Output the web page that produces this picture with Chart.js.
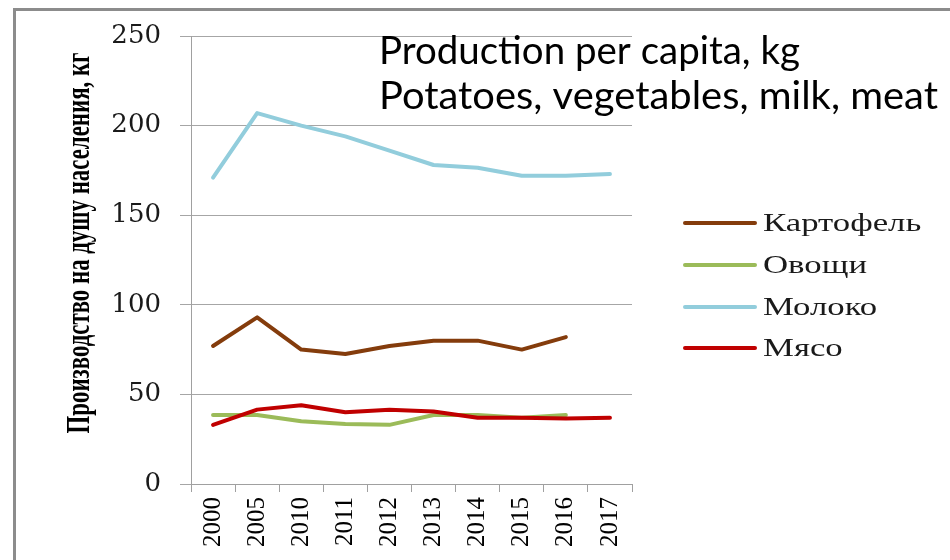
<!DOCTYPE html>
<html>
<head>
<meta charset="utf-8">
<script src="https://cdn.jsdelivr.net/npm/chart.js@4.4.1/dist/chart.umd.min.js"></script>
<style>
  html, body { margin: 0; padding: 0; background: #ffffff; }
  #wrap { width: 950px; height: 560px; position: relative; }
</style>
</head>
<body>
<div id="wrap"><canvas id="c" width="950" height="560"></canvas></div>
<script>
const categories = ['2000','2005','2010','2011','2012','2013','2014','2015','2016','2017'];
const potatoes   = [77, 93, 75, 72.5, 77, 80, 80, 75, 82, null];
const vegetables = [38.5, 38.5, 35, 33.5, 33, 38.5, 38.5, 37, 38.5, null];
const milk       = [171, 207, 200, 194, 186, 178, 176.5, 172, 172, 173];
const meat       = [33, 41.5, 44, 40, 41.5, 40.5, 37, 37, 36.5, 37];
const seriesNames = ['Картофель', 'Овощи', 'Молоко', 'Мясо'];
const yTicks = [0, 50, 100, 150, 200, 250];
const titleLines = ['Production per capita, kg', 'Potatoes, vegetables, milk, meat'];
const yTitle = 'Производство на душу населения, кг';

const colors = ['#843C0C', '#9BBB59', '#92CDDC', '#C00000'];
const seriesData = [potatoes, vegetables, milk, meat];

const datasets = seriesData.map((d, i) => ({
  label: seriesNames[i],
  data: d,
  borderColor: colors[i],
  backgroundColor: colors[i],
  borderWidth: 4,
  borderCapStyle: 'round',
  borderJoinStyle: 'round',
  pointRadius: 0,
  tension: 0,
  fill: false,
  order: 4 - i
}));

const decor = {
  id: 'decor',
  afterDraw(chart) {
    const ctx = chart.ctx;
    ctx.save();
    // outer frame (left & top)
    ctx.strokeStyle = '#8c8c8c';
    ctx.lineWidth = 3;
    ctx.beginPath();
    ctx.moveTo(14.5, 560);
    ctx.lineTo(14.5, 9.5);
    ctx.lineTo(950, 9.5);
    ctx.stroke();

    // title (two lines)
    ctx.fillStyle = '#000000';
    ctx.font = '39px Lato';
    ctx.textBaseline = 'alphabetic';
    ctx.textAlign = 'left';
    const targetW = [421, 559];
    const baselines = [64, 109];
    titleLines.forEach((t, i) => {
      const sx = targetW[i] / ctx.measureText(t).width;
      ctx.save();
      ctx.translate(379, baselines[i]);
      ctx.scale(sx, 1);
      ctx.fillText(t, 0, 0);
      ctx.restore();
    });

    // y-axis title
    ctx.save();
    ctx.font = 'bold 26px "Liberation Serif"';
    ctx.fillStyle = '#000000';
    ctx.textAlign = 'center';
    ctx.textBaseline = 'middle';
    const tw = ctx.measureText(yTitle).width;
    ctx.translate(80, 243);
    ctx.rotate(-Math.PI / 2);
    ctx.scale(381 / tw, 1.3);
    ctx.fillText(yTitle, 0, 0);
    ctx.restore();

    // legend
    const rowsY = [223, 265, 307, 348];
    chart.data.datasets.forEach((ds, i) => {
      const y = rowsY[i];
      ctx.strokeStyle = ds.borderColor;
      ctx.lineWidth = 4;
      ctx.lineCap = 'round';
      ctx.beginPath();
      ctx.moveTo(685, y);
      ctx.lineTo(755, y);
      ctx.stroke();
      ctx.save();
      ctx.font = '25px "Liberation Serif"';
      ctx.fillStyle = '#1a1a1a';
      ctx.textAlign = 'left';
      ctx.textBaseline = 'middle';
      ctx.translate(763, y + 1);
      ctx.scale(1.39, 1);
      ctx.fillText(ds.label, 0, 0);
      ctx.restore();
    });
    ctx.restore();
  }
};

new Chart(document.getElementById('c'), {
  type: 'line',
  data: { labels: categories, datasets },
  options: {
    responsive: false,
    animation: false,
    layout: { padding: { left: 64, right: 318, top: 36, bottom: 0 } },
    plugins: {
      legend: { display: false },
      title: { display: false },
      tooltip: { enabled: false }
    },
    scales: {
      x: {
        offset: true,
        grid: {
          offset: true,
          drawOnChartArea: false,
          drawTicks: true,
          tickLength: 8,
          color: '#a0a0a0'
        },
        border: { color: '#a0a0a0', width: 1 },
        ticks: {
          minRotation: 90,
          maxRotation: 90,
          padding: 5,
          color: '#000000',
          font: { family: 'Liberation Serif', size: 25 }
        },
        afterFit(scale) { scale.height = 76; }
      },
      y: {
        min: 0,
        max: 250,
        afterBuildTicks(scale) { scale.ticks = yTicks.map(v => ({ value: v })); },
        grid: {
          color: '#a6a6a6',
          tickLength: 11,
          drawTicks: true
        },
        border: { color: '#a0a0a0', width: 1 },
        ticks: {
          padding: 19,
          color: '#1a1a1a',
          font: { family: 'DejaVu Serif', size: 26 }
        },
        afterFit(scale) { scale.width = 127; }
      }
    }
  },
  plugins: [decor]
});
</script>
</body>
</html>
